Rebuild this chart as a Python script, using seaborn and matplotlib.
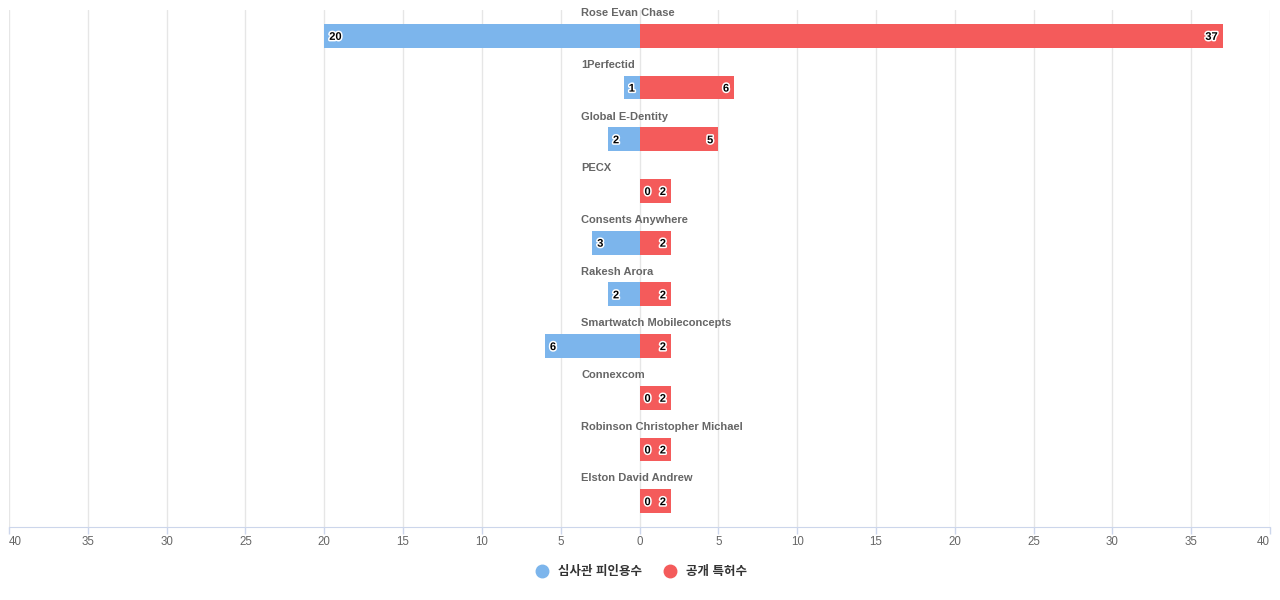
import matplotlib
matplotlib.use("Agg")
import matplotlib.pyplot as plt
from matplotlib.lines import Line2D
import matplotlib.patheffects as pe
import pandas as pd
import seaborn as sns

# ── Data ──────────────────────────────────────────────────────────────────────
categories = [
    "Rose Evan Chase", "1Perfectid", "Global E-Dentity", "PECX",
    "Consents Anywhere", "Rakesh Arora", "Smartwatch Mobileconcepts",
    "Connexcom", "Robinson Christopher Michael", "Elston David Andrew",
]
examiner_cites = [20, 1, 2, 0, 3, 2, 6, 0, 0, 0]
patent_counts  = [37, 6, 5, 2, 2, 2, 2, 2, 2, 2]
series_names   = ["심사관 피인용수", "공개 특허수"]
tick_values    = list(range(-40, 45, 5))

# ── Style ─────────────────────────────────────────────────────────────────────
BLUE = "#7cb5ec"
RED  = "#f45b5b"
sns.set_style("white")
plt.rcParams["font.family"] = ["Liberation Sans", "Noto Sans CJK KR", "DejaVu Sans"]

df = pd.DataFrame({
    "name": categories,
    "left": [-v for v in examiner_cites],
    "right": patent_counts,
})

fig = plt.figure(figsize=(12.8, 6.0), dpi=100)
ax = fig.add_axes([9 / 1280, 73 / 600, 1261 / 1280, 517 / 600])

sns.barplot(data=df, x="left", y="name", order=categories, orient="h",
            color=BLUE, width=0.46, saturation=1, linewidth=0, ax=ax, zorder=3)
sns.barplot(data=df, x="right", y="name", order=categories, orient="h",
            color=RED, width=0.46, saturation=1, linewidth=0, ax=ax, zorder=3)

ax.set_xlim(-40, 40)
ax.set_ylim(len(categories) - 0.5, -0.5)
ax.set_xticks(tick_values)
ax.set_xticklabels([str(abs(t)) for t in tick_values], fontsize=8.3, color="#666666")
labels = ax.get_xticklabels()
labels[0].set_ha("left")
labels[-1].set_ha("right")
ax.set_yticks([])
ax.set_xlabel("")
ax.set_ylabel("")
ax.grid(axis="x", color="#e6e6e6", lw=1, zorder=0)
ax.set_axisbelow(True)
for s in ["top", "left", "right"]:
    ax.spines[s].set_visible(False)
ax.spines["bottom"].set_color("#ccd6eb")
ax.tick_params(axis="x", bottom=True, direction="out", length=5, width=1,
               color="#ccd6eb", pad=1.5)

outline = [pe.withStroke(linewidth=2.2, foreground="white")]
for i, name in enumerate(categories):
    ax.text(-3.7, i - 0.44, name, ha="left", va="center", fontsize=8,
            fontweight="bold", color="#666666")
    ax.annotate(str(examiner_cites[i]), (-examiner_cites[i], i + 0.02),
                xytext=(3.6, 0), textcoords="offset points",
                ha="left", va="center", fontsize=8, fontweight="bold",
                color="black", path_effects=outline, zorder=5)
    ax.annotate(str(patent_counts[i]), (patent_counts[i], i + 0.02),
                xytext=(-3.6, 0), textcoords="offset points",
                ha="right", va="center", fontsize=8, fontweight="bold",
                color="black", path_effects=outline, zorder=5)

handles = [
    Line2D([], [], marker="o", ls="", markersize=9, color=BLUE),
    Line2D([], [], marker="o", ls="", markersize=9, color=RED),
]
leg = fig.legend(handles, series_names, loc="center", ncol=2,
                 bbox_to_anchor=(638 / 1280, 1 - 572 / 600), frameon=False,
                 handletextpad=0.3, columnspacing=1.2,
                 prop={"size": 9, "weight": "bold"})
for t in leg.get_texts():
    t.set_color("#333333")

fig.savefig("out.png", dpi=100)
